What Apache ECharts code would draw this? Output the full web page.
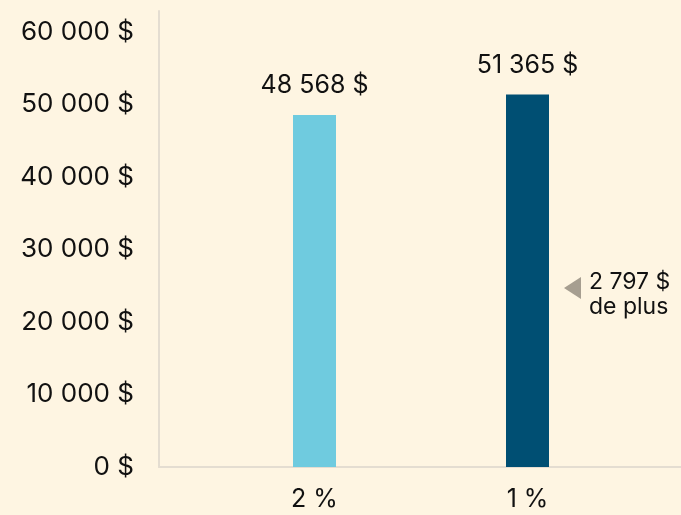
<!DOCTYPE html>
<html>
<head>
<meta charset="utf-8">
<script src="https://cdn.jsdelivr.net/npm/echarts@6/dist/echarts.min.js"></script>
<style>
  html, body { margin: 0; padding: 0; background: #fef5e2; }
  #chart { width: 681px; height: 515px; }
</style>
</head>
<body>
<div id="chart"></div>
<script>
const categories = ['2 %', '1 %'];
const amounts = [48568, 51365];
const barColors = ['#6fcbdf', '#004f73'];
const yTicks = [0, 10000, 20000, 30000, 40000, 50000, 60000];

function money(v) {
  return String(v).replace(/\B(?=(\d{3})+(?!\d))/g, ' ') + ' $';
}

const chart = echarts.init(document.getElementById('chart'));
const font = 'Inter, "Open Sans", sans-serif';
const yMax = 62900;
const diff = amounts[1] - amounts[0];

let option = {
  backgroundColor: '#fef5e2',
  animation: false,
  textStyle: { fontFamily: font },
  grid: [
    { left: 159, right: 0, top: 11, bottom: 48 },
    { left: 208, right: 47, top: 11, bottom: 48 }
  ],
  xAxis: [
    {
      gridIndex: 0,
      type: 'category',
      data: [''],
      axisLine: { lineStyle: { color: '#e4ddd1', width: 2 } },
      axisTick: { show: false },
      axisLabel: { show: false }
    },
    {
      gridIndex: 1,
      type: 'category',
      data: categories,
      axisLine: { show: false },
      axisTick: { show: false },
      axisLabel: { color: '#111', fontSize: 25, margin: 20, fontFamily: font }
    }
  ],
  yAxis: [
    {
      gridIndex: 0,
      type: 'value',
      min: yTicks[0],
      max: yMax,
      interval: 10000,
      axisLine: { show: true, lineStyle: { color: '#e4ddd1', width: 2 } },
      axisTick: { show: false },
      splitLine: { show: false },
      axisLabel: {
        color: '#111', fontSize: 26, margin: 25, fontFamily: font,
        showMaxLabel: false,
        formatter: money
      }
    },
    {
      gridIndex: 1,
      type: 'value',
      min: yTicks[0],
      max: yMax,
      show: false
    }
  ],
  series: [{
    type: 'bar',
    xAxisIndex: 1,
    yAxisIndex: 1,
    barWidth: 43,
    data: amounts.map((v, i) => ({ value: v, itemStyle: { color: barColors[i] } })),
    label: {
      show: true,
      position: 'top',
      distance: 17,
      color: '#111',
      fontSize: 25,
      fontFamily: font,
      formatter: p => money(p.value)
    }
  }],
  graphic: [
    {
      type: 'polygon',
      shape: { points: [[564, 288], [581, 277], [581, 299]] },
      style: { fill: '#a69e90' }
    },
    {
      type: 'text',
      left: 589,
      top: 270,
      style: {
        text: money(diff) + '\nde plus',
        fill: '#111',
        font: '23px ' + font,
        lineHeight: 25
      }
    }
  ]
};
chart.setOption(option);
</script>
</body>
</html>
